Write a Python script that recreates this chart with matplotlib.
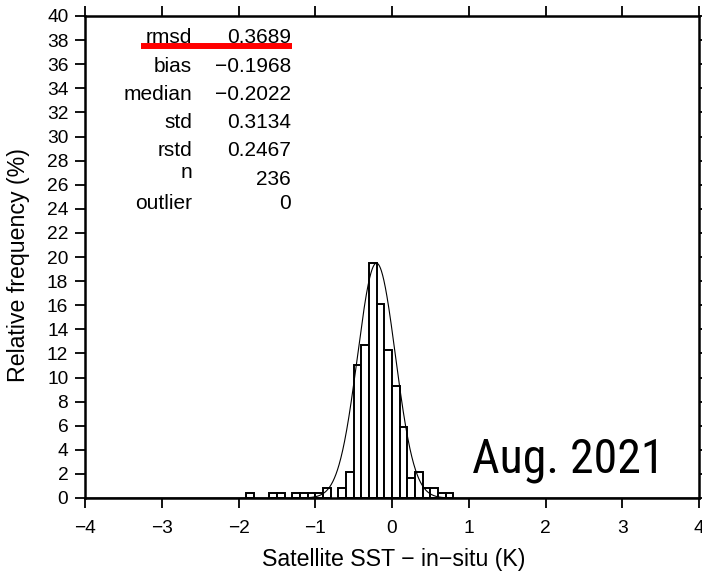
import numpy as np
import matplotlib
matplotlib.use("Agg")
import matplotlib.pyplot as plt

# histogram of satellite SST minus in-situ, bin width 0.1 K
bin_left = [-1.9, -1.6, -1.5, -1.3, -1.2, -1.1, -1.0, -0.9, -0.7, -0.6,
            -0.5, -0.4, -0.3, -0.2, -0.1, 0.0, 0.1, 0.2, 0.3, 0.4,
            0.5, 0.6, 0.7]
counts = [1, 1, 1, 1, 1, 1, 1, 2, 2, 5,
          26, 30, 46, 38, 29, 22, 14, 4, 5, 2,
          2, 1, 1]
n_total = 236
bin_width = 0.1

stat_names = ["rmsd", "bias", "median", "std", "rstd", "n", "outlier"]
stat_values = ["0.3689", "\u22120.1968", "\u22120.2022", "0.3134", "0.2467", "236", "0"]
median = -0.2022
rstd = 0.2467

freq = np.array(counts) / n_total * 100

plt.rcParams["font.family"] = ["Liberation Sans", "DejaVu Sans"]

fig = plt.figure(figsize=(7.02, 5.78), dpi=100)
ax = fig.add_axes([85 / 702, 80 / 578, 614 / 702, 482 / 578])

ax.bar(bin_left, freq, width=bin_width, align="edge", color="white",
       edgecolor="black", linewidth=1.4, zorder=2)

# gaussian from median / robust std, scaled to the tallest bin
xs = np.linspace(-4, 4, 2000)
ax.plot(xs, freq.max() * np.exp(-0.5 * ((xs - median) / rstd) ** 2),
        color="black", linewidth=0.8, zorder=3)

ax.set_xlim(-4, 4)
ax.set_ylim(0, 40)
ax.set_xticks(np.arange(-4, 5, 1))
ax.set_yticks(np.arange(0, 41, 2))
ax.tick_params(direction="out", length=7, width=1.3, labelsize=13.8,
               top=True, right=True)
ax.tick_params(axis="x", pad=9)
ax.tick_params(axis="y", pad=5)
for s in ax.spines.values():
    s.set_linewidth(1.8)
    s.set_zorder(4)

ax.set_xlabel("Satellite SST \u2212 in\u2212situ (K)", fontsize=16.7)
ax.set_ylabel("Relative frequency (%)", fontsize=16.7)
ax.xaxis.set_label_coords(0.502, -0.103)
ax.yaxis.set_label_coords(-0.09, 0.483)

# statistics table
label_y = [37.78, 35.38, 33.03, 30.68, 28.38, 26.53, 23.96]
value_y = [37.78, 35.38, 33.03, 30.68, 28.38, 25.98, 23.96]
for name, val, yl, yv in zip(stat_names, stat_values, label_y, value_y):
    ax.text(-2.606, yl, name, ha="right", va="baseline", fontsize=15)
    ax.text(-1.316, yv, val, ha="right", va="baseline", fontsize=15)
ax.plot([-3.27, -1.299], [37.49, 37.49], color="red", linewidth=4.3,
        solid_capstyle="butt", zorder=5)

ax.text(3.557, 2.1, "Aug. 2021", ha="right", va="baseline", fontsize=34.5,
        family=["Roboto Condensed", "DejaVu Sans"])

fig.savefig("out.png", dpi=100)
